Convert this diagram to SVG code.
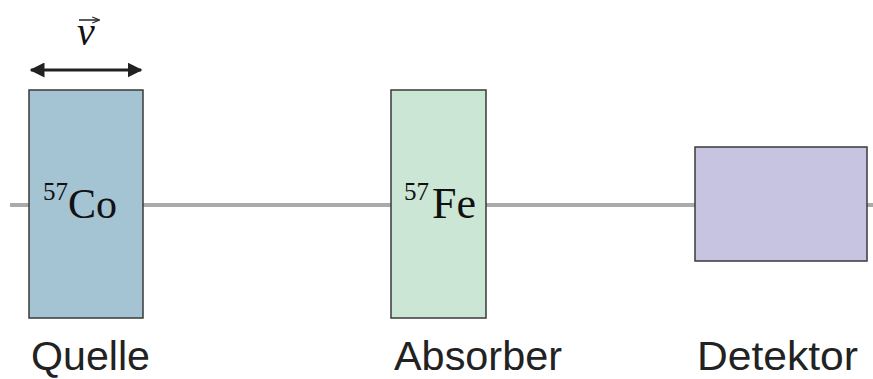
<svg xmlns="http://www.w3.org/2000/svg" width="873" height="379" viewBox="0 0 873 379">
<style>
.box{stroke:#3a3a3a;stroke-width:1.5}
.lbl{font-family:"Liberation Sans",Arial,sans-serif;font-size:40px;fill:#222}
.sym{font-family:"Liberation Serif","Times New Roman",serif;fill:#111}
</style>
<defs>
<marker id="ah" viewBox="0 0 10 10" refX="9" refY="5" markerWidth="5" markerHeight="5" orient="auto-start-reverse" markerUnits="strokeWidth">
<path d="M0,0 L10,5 L0,10 z" fill="#222"/>
</marker>
<marker id="ahs" viewBox="0 0 10 10" refX="9" refY="5" markerWidth="5" markerHeight="5" orient="auto" markerUnits="strokeWidth">
<path d="M0,1 L10,5 L0,9" fill="none" stroke="#222" stroke-width="1.5"/>
</marker>
</defs>
<g id="connectors">
<line x1="10" y1="205" x2="873" y2="205" stroke="#aaaaaa" stroke-width="4"/>
<line x1="31" y1="70" x2="141" y2="70" stroke="#222" stroke-width="3" marker-start="url(#ah)" marker-end="url(#ah)"/>
</g>
<g id="velocity">
<text class="sym" x="77" y="45" font-size="40" font-style="italic">v</text>
<line x1="79" y1="20" x2="99" y2="20" stroke="#222" stroke-width="1.5" marker-end="url(#ahs)"/>
</g>
<g id="quelle">
<rect class="box" x="29" y="90" width="114" height="228" fill="#a4c3d3"/>
<text class="sym" x="43" y="200" font-size="25">57</text>
<text class="sym" x="68" y="218" font-size="42">Co</text>
<text class="lbl" x="31" y="370" textLength="119" lengthAdjust="spacingAndGlyphs">Quelle</text>
</g>
<g id="absorber">
<rect class="box" x="391" y="90" width="95" height="228" fill="#cce6d5"/>
<text class="sym" x="404" y="200" font-size="25">57</text>
<text class="sym" x="432" y="218" font-size="44">Fe</text>
<text class="lbl" x="394" y="370" textLength="168" lengthAdjust="spacingAndGlyphs">Absorber</text>
</g>
<g id="detektor">
<rect class="box" x="695" y="147" width="172" height="114" fill="#c6c4e1"/>
<text class="lbl" x="697" y="370" textLength="161" lengthAdjust="spacingAndGlyphs">Detektor</text>
</g>
</svg>
